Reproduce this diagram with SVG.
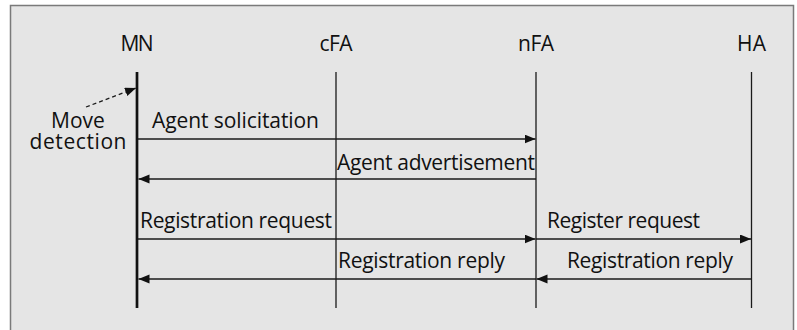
<svg xmlns="http://www.w3.org/2000/svg" width="797" height="330" viewBox="0 0 797 330">
<defs>
<style>
.lbl{font-family:"Open Sans","Liberation Sans",sans-serif;font-size:21px;fill:#111}
.mid{text-anchor:middle}
.life{stroke:#1a1a1a;stroke-width:1.3}
.msg{stroke:#1a1a1a;stroke-width:1.3;fill:none}
</style>
<marker id="ah" markerUnits="userSpaceOnUse" markerWidth="12" markerHeight="10" refX="11" refY="4.5" orient="auto">
<path d="M0,0 L11,4.5 L0,9 Z" fill="#111"/>
</marker>
</defs>
<rect x="10.5" y="5.5" width="783" height="330" fill="#e5e5e5" stroke="#7a7a7a" stroke-width="1.5"/>
<g id="MN">
<text class="lbl mid" x="137" y="50.5" textLength="33">MN</text>
<line x1="137" y1="72" x2="137" y2="308" stroke="#111" stroke-width="2.7"/>
</g>
<g id="cFA">
<text class="lbl mid" x="336" y="50.5" textLength="33">cFA</text>
<line class="life" x1="336" y1="72" x2="336" y2="308"/>
</g>
<g id="nFA">
<text class="lbl mid" x="536" y="50.5" textLength="36">nFA</text>
<line class="life" x1="536" y1="72" x2="536" y2="308"/>
</g>
<g id="HA">
<text class="lbl mid" x="751.5" y="50.5" textLength="29">HA</text>
<line class="life" x1="751.5" y1="72" x2="751.5" y2="308"/>
</g>
<g id="move-detection">
<text class="lbl mid" x="78" y="127.5" font-size="22">Move</text>
<text class="lbl mid" x="78" y="149" textLength="97">detection</text>
</g>
<g id="connectors">
<line class="msg" x1="86" y1="107" x2="136" y2="88" stroke-dasharray="4,3" marker-end="url(#ah)"/>
<line class="msg" x1="138" y1="139" x2="535.5" y2="139" marker-end="url(#ah)"/>
<text class="lbl" x="152" y="128" textLength="167">Agent solicitation</text>
<line class="msg" x1="536" y1="179" x2="138.5" y2="179" marker-end="url(#ah)"/>
<text class="lbl" x="337" y="170" textLength="198">Agent advertisement</text>
<line class="msg" x1="138" y1="239" x2="535.5" y2="239" marker-end="url(#ah)"/>
<text class="lbl" x="140" y="228" textLength="192">Registration request</text>
<line class="msg" x1="536" y1="239" x2="751" y2="239" marker-end="url(#ah)"/>
<text class="lbl" x="547" y="228" textLength="153">Register request</text>
<line class="msg" x1="536" y1="279" x2="138.5" y2="279" marker-end="url(#ah)"/>
<text class="lbl" x="338" y="268" textLength="167">Registration reply</text>
<line class="msg" x1="751.5" y1="279" x2="536.5" y2="279" marker-end="url(#ah)"/>
<text class="lbl" x="567" y="268" textLength="166">Registration reply</text>
</g>
</svg>
